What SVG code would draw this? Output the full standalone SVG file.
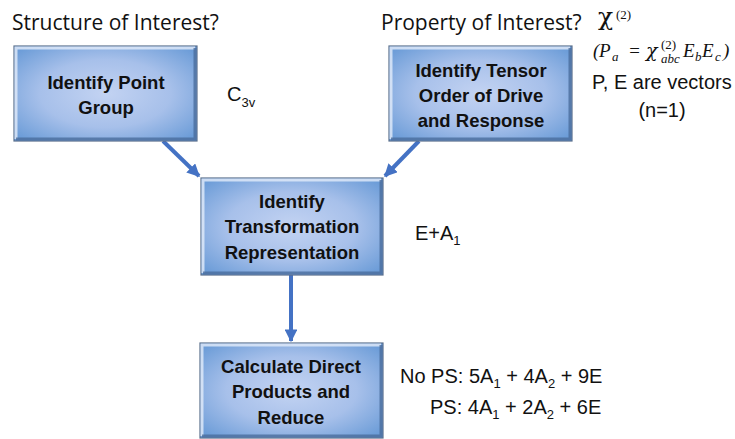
<svg xmlns="http://www.w3.org/2000/svg" width="735" height="439" viewBox="0 0 735 439">
<defs>
<radialGradient id="bg" cx="50%" cy="50%" r="65%">
<stop offset="0" stop-color="#c3d3f2"/>
<stop offset="0.55" stop-color="#a7c0ea"/>
<stop offset="1" stop-color="#6d9dd8"/>
</radialGradient>
<marker id="ah" viewBox="0 0 10 10" refX="9" refY="5" markerWidth="3.2" markerHeight="3.2" orient="auto" markerUnits="strokeWidth">
<path d="M0,0 L10,5 L0,10 z" fill="#4472c4"/>
</marker>
<style>
.box{fill:url(#bg);stroke:#5a6f8c;stroke-width:1.2}
.hl{fill:none;stroke:#e3ecfa;stroke-width:3;opacity:0.8}
.sh{fill:none;stroke:#4a6d9c;stroke-width:3;opacity:0.8}
.bt{font-family:"Liberation Sans",Arial,sans-serif;font-size:18.5px;font-weight:bold;fill:#111;text-anchor:middle}
.hd{font-family:"Open Sans","Liberation Sans",sans-serif;font-size:21px;fill:#111}
.lb{font-family:"Liberation Sans",Arial,sans-serif;font-size:20px;fill:#111}
.sb{font-size:13px}
.mt{font-family:"Liberation Serif","Times New Roman",serif;font-size:19px;font-style:italic;fill:#111}
.ms{font-family:"Liberation Serif","Times New Roman",serif;font-size:13px;font-style:italic;fill:#111}
.mu{font-family:"Liberation Serif","Times New Roman",serif;font-size:13px;fill:#111}
.chi{font-family:"DejaVu Serif",serif;fill:#111}
.cn{stroke:#4472c4;stroke-width:4;fill:none}
</style>
</defs>
<text class="hd" x="12" y="30">Structure of Interest?</text>
<text class="hd" x="381" y="30">Property of Interest?</text>
<text class="chi" x="598" y="25" font-size="25">χ</text>
<text class="mu" x="616" y="19">(2)</text>
<g id="formula">
<text class="mt" x="593" y="57" font-style="normal">(</text>
<text class="mt" x="599" y="57">P</text>
<text class="ms" x="612" y="61">a</text>
<text class="mt" x="628" y="57" font-style="normal">=</text>
<text class="chi" x="646" y="57" font-size="19" font-style="italic">χ</text>
<text class="mu" x="661" y="49">(2)</text>
<text class="ms" x="661" y="63">abc</text>
<text class="mt" x="683" y="57">E</text>
<text class="ms" x="695" y="61">b</text>
<text class="mt" x="702" y="57">E</text>
<text class="ms" x="715" y="61">c</text>
<text class="mt" x="723" y="57" font-style="normal">)</text>
</g>
<text class="lb" x="592" y="89">P, E are vectors</text>
<text class="lb" x="662" y="117" text-anchor="middle">(n=1)</text>
<g id="connectors">
<line class="cn" x1="163" y1="141" x2="199" y2="176" marker-end="url(#ah)"/>
<line class="cn" x1="419" y1="141" x2="385" y2="176" marker-end="url(#ah)"/>
<line class="cn" x1="291" y1="275" x2="291" y2="341" marker-end="url(#ah)"/>
</g>
<g id="n1">
<rect class="box" x="14" y="46" width="183" height="95"/>
<path class="hl" d="M16,139 V48 H195"/>
<path class="sh" d="M195,48 V139 H16"/>
<text class="bt" x="106" y="89">Identify Point</text>
<text class="bt" x="106" y="114">Group</text>
</g>
<text class="lb" x="227" y="101" font-size="18">C<tspan class="sb" dy="6">3v</tspan></text>
<g id="n2">
<rect class="box" x="389" y="46" width="183" height="95"/>
<path class="hl" d="M391,139 V48 H570"/>
<path class="sh" d="M570,48 V139 H391"/>
<text class="bt" x="481" y="77">Identify Tensor</text>
<text class="bt" x="481" y="102">Order of Drive</text>
<text class="bt" x="481" y="127">and Response</text>
</g>
<g id="n3">
<rect class="box" x="201" y="178" width="182" height="97"/>
<path class="hl" d="M203,273 V180 H381"/>
<path class="sh" d="M381,180 V273 H203"/>
<text class="bt" x="292" y="208">Identify</text>
<text class="bt" x="292" y="233">Transformation</text>
<text class="bt" x="292" y="259">Representation</text>
</g>
<text class="lb" x="415" y="240">E+A<tspan class="sb" dy="5">1</tspan></text>
<g id="n4">
<rect class="box" x="200" y="343" width="183" height="95"/>
<path class="hl" d="M202,436 V345 H381"/>
<path class="sh" d="M381,345 V436 H202"/>
<text class="bt" x="291" y="373">Calculate Direct</text>
<text class="bt" x="291" y="398">Products and</text>
<text class="bt" x="291" y="424">Reduce</text>
</g>
<text class="lb" x="400" y="383">No PS: 5A<tspan class="sb" dy="5">1</tspan><tspan dy="-5"> + 4A</tspan><tspan class="sb" dy="5">2</tspan><tspan dy="-5"> + 9E</tspan></text>
<text class="lb" x="430" y="414">PS: 4A<tspan class="sb" dy="5">1</tspan><tspan dy="-5"> + 2A</tspan><tspan class="sb" dy="5">2</tspan><tspan dy="-5"> + 6E</tspan></text>
</svg>
